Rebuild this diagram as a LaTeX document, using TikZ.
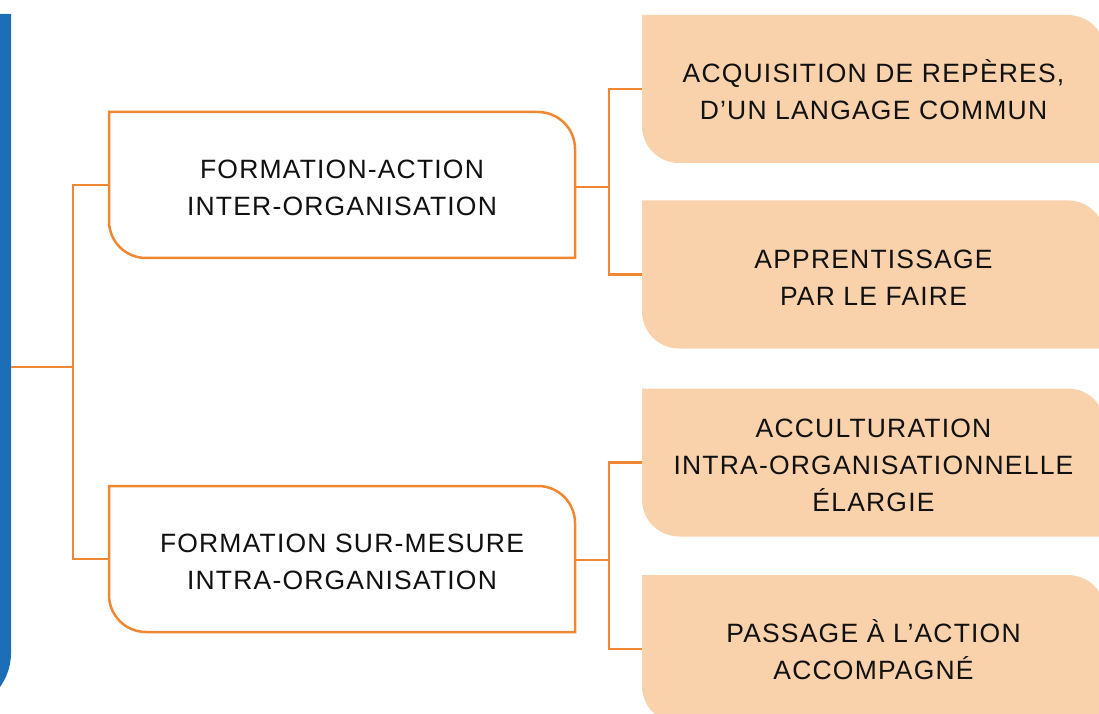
\documentclass[tikz,border=0pt]{standalone}
\usepackage{fontspec}
\newfontfamily\lblfont[LetterSpace=4.5]{Liberation Sans}
\usetikzlibrary{calc}
\definecolor{barblue}{RGB}{28,110,183}
\definecolor{lineorange}{RGB}{240,135,50}
\definecolor{peach}{RGB}{249,210,172}
\definecolor{txtblack}{RGB}{17,17,17}
\newcommand\drawshapebox[2]{%
  \path[#2] (#1.north west) -- ([xshift=-37pt]#1.north east)
    arc[start angle=90,end angle=0,radius=37pt] -- (#1.south east)
    -- ([xshift=37pt]#1.south west)
    arc[start angle=270,end angle=180,radius=37pt] -- cycle;}
\newcommand\fl{\rule{0pt}{0.95em}}
\begin{document}
\begin{tikzpicture}[x=1pt,y=1pt,
  boxnode/.style={rectangle,draw=none,inner sep=0pt,outer sep=0pt,align=center,
    text=txtblack,font=\lblfont\fontsize{26.5pt}{37pt}\selectfont},
  midbox/.style={boxnode,minimum width=466pt,minimum height=146pt},
  peachbox/.style={boxnode,minimum width=463pt,minimum height=148pt},
  midshape/.style={fill=white,draw=lineorange,line width=2.5pt},
  peachshape/.style={fill=peach},
  conn/.style={draw=lineorange,line width=2.5pt}]
\useasboundingbox (0,0) rectangle (1099,713);
\clip (0,0) rectangle (1099,713);
% blue bar
\fill[barblue] (-80,699) -- (11,699) -- (11,60)
  arc[start angle=0,end angle=-90,radius=58pt] -- (-80,2) -- cycle;
\coordinate (blueR) at (11,346);
% boxes (backgrounds first)
\path (342,528) node[midbox] (m1) {};
\path (342,154) node[midbox] (m2) {};
\path (873.5,624) node[peachbox] (pA) {};
\path (873.5,438.5) node[peachbox] (pB) {};
\path (873.5,250.5) node[peachbox] (pC) {};
\path (873.5,64) node[peachbox] (pD) {};
\drawshapebox{m1}{midshape}
\drawshapebox{m2}{midshape}
\drawshapebox{pA}{peachshape}
\drawshapebox{pB}{peachshape}
\drawshapebox{pC}{peachshape}
\drawshapebox{pD}{peachshape}
% texts
\node[boxnode] at (m1.center) {\fl FORMATION-ACTION\\INTER-ORGANISATION};
\node[boxnode] at (m2.center) {\fl FORMATION SUR-MESURE\\INTRA-ORGANISATION};
\node[boxnode] at (pA.center) {\fl ACQUISITION DE REPÈRES,\\D’UN LANGAGE COMMUN};
\node[boxnode] at (pB.center) {\fl APPRENTISSAGE\\PAR LE FAIRE};
\node[boxnode] at (pC.center) {\fl ACCULTURATION\\INTRA-ORGANISATIONNELLE\\ÉLARGIE};
\node[boxnode] at (pD.center) {\fl PASSAGE À L’ACTION\\ACCOMPAGNÉ};
% connectors
\coordinate (j0) at (73,346);
\coordinate (j1) at (609,526);
\coordinate (j2) at (609,153);
\draw[conn] (blueR) -- (j0);
\draw[conn] (m1.west) -| (j0) |- (m2.west);
\draw[conn] (m1.east |- j1) -- (j1);
\draw[conn] (pA.west) -| (j1) |- (pB.west);
\draw[conn] (m2.east |- j2) -- (j2);
\draw[conn] (pC.west) -| (j2) |- (pD.west);
\end{tikzpicture}
\end{document}
